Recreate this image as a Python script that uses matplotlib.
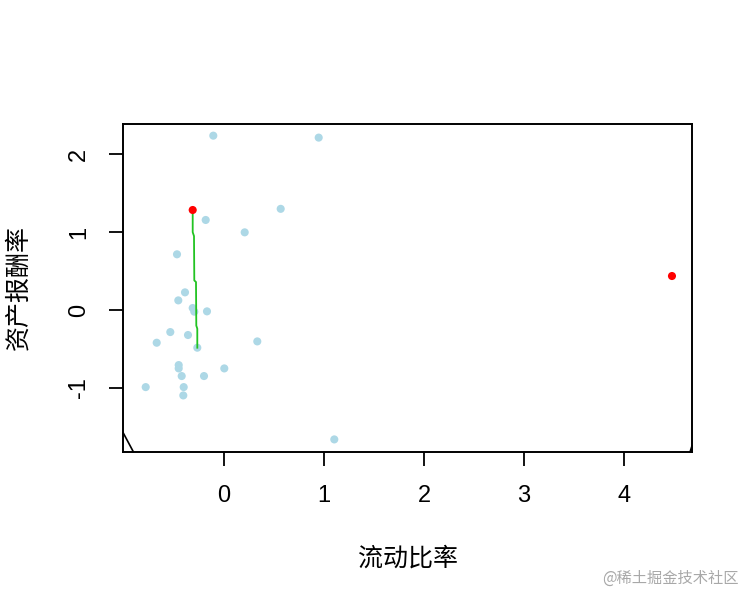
import matplotlib
matplotlib.use('Agg')
import matplotlib.pyplot as plt

plt.rcParams['font.family'] = ['Liberation Sans', 'Noto Sans CJK SC', 'DejaVu Sans']
plt.rcParams['axes.unicode_minus'] = False

# scatter data (流动比率, 资产报酬率)
liudong = [-0.107, 0.947, -0.183, 0.567, 0.207, -0.47, -0.39, -0.457, -0.313, -0.297,
           -0.17, -0.537, -0.36, -0.673, 0.333, -0.267, -0.453, -0.453, 0.003, -0.423,
           -0.2, -0.783, -0.403, -0.407, 1.103]
zichan = [2.24, 2.215, 1.157, 1.30, 0.998, 0.716, 0.227, 0.124, 0.026, -0.021,
          -0.017, -0.283, -0.321, -0.42, -0.403, -0.484, -0.707, -0.75, -0.75, -0.848,
          -0.848, -0.99, -0.99, -1.097, -1.662]

# highlighted points
red_x = [-0.313, 4.48]
red_y = [1.285, 0.437]

# green smooth line
line_x = [-0.313, -0.313, -0.30, -0.297, -0.28, -0.277, -0.267, -0.267]
line_y = [1.285, 1.0, 0.95, 0.38, 0.36, -0.20, -0.24, -0.484]

fig = plt.figure(figsize=(7.56, 6.06), dpi=100)
ax = fig.add_axes([0.1631, 0.2546, 0.7522, 0.5408])

ax.scatter(liudong, zichan, s=34, color='#add8e6', edgecolors='none', zorder=2)
ax.plot(line_x, line_y, color='#22c322', lw=1.3, zorder=3)
ax.scatter(red_x, red_y, s=34, color='red', edgecolors='none', zorder=4)

# small corner marks
ax.plot([-1.007, -0.907], [-1.58, -1.82], color='black', lw=1.2, clip_on=False)
ax.plot([4.66, 4.68, 4.68, 4.66], [-1.82, -1.74, -1.82, -1.82], color='black', lw=1.0, clip_on=False)

ax.set_xlim(-1.007, 4.68)
ax.set_ylim(-1.82, 2.39)
ax.set_xticks([0, 1, 2, 3, 4])
ax.set_yticks([-1, 0, 1, 2])
ax.tick_params(length=10, width=1.3, pad=14, labelsize=17)
for lab in ax.get_yticklabels():
    lab.set_rotation(90)
    lab.set_va('center')
for sp in ax.spines.values():
    sp.set_linewidth(1.4)

ax.set_xlabel('流动比率', fontsize=18)
ax.set_ylabel('资产报酬率', fontsize=18)
ax.xaxis.set_label_coords(0.5, -0.29)
ax.yaxis.set_label_coords(-0.163, 0.5)

fig.text(0.977, 0.045, '@稀土掘金技术社区', ha='right', va='center', fontsize=11,
         color='#a8a8a8', family=['Noto Sans CJK SC', 'DejaVu Sans'])

plt.savefig('out.png', dpi=100)
